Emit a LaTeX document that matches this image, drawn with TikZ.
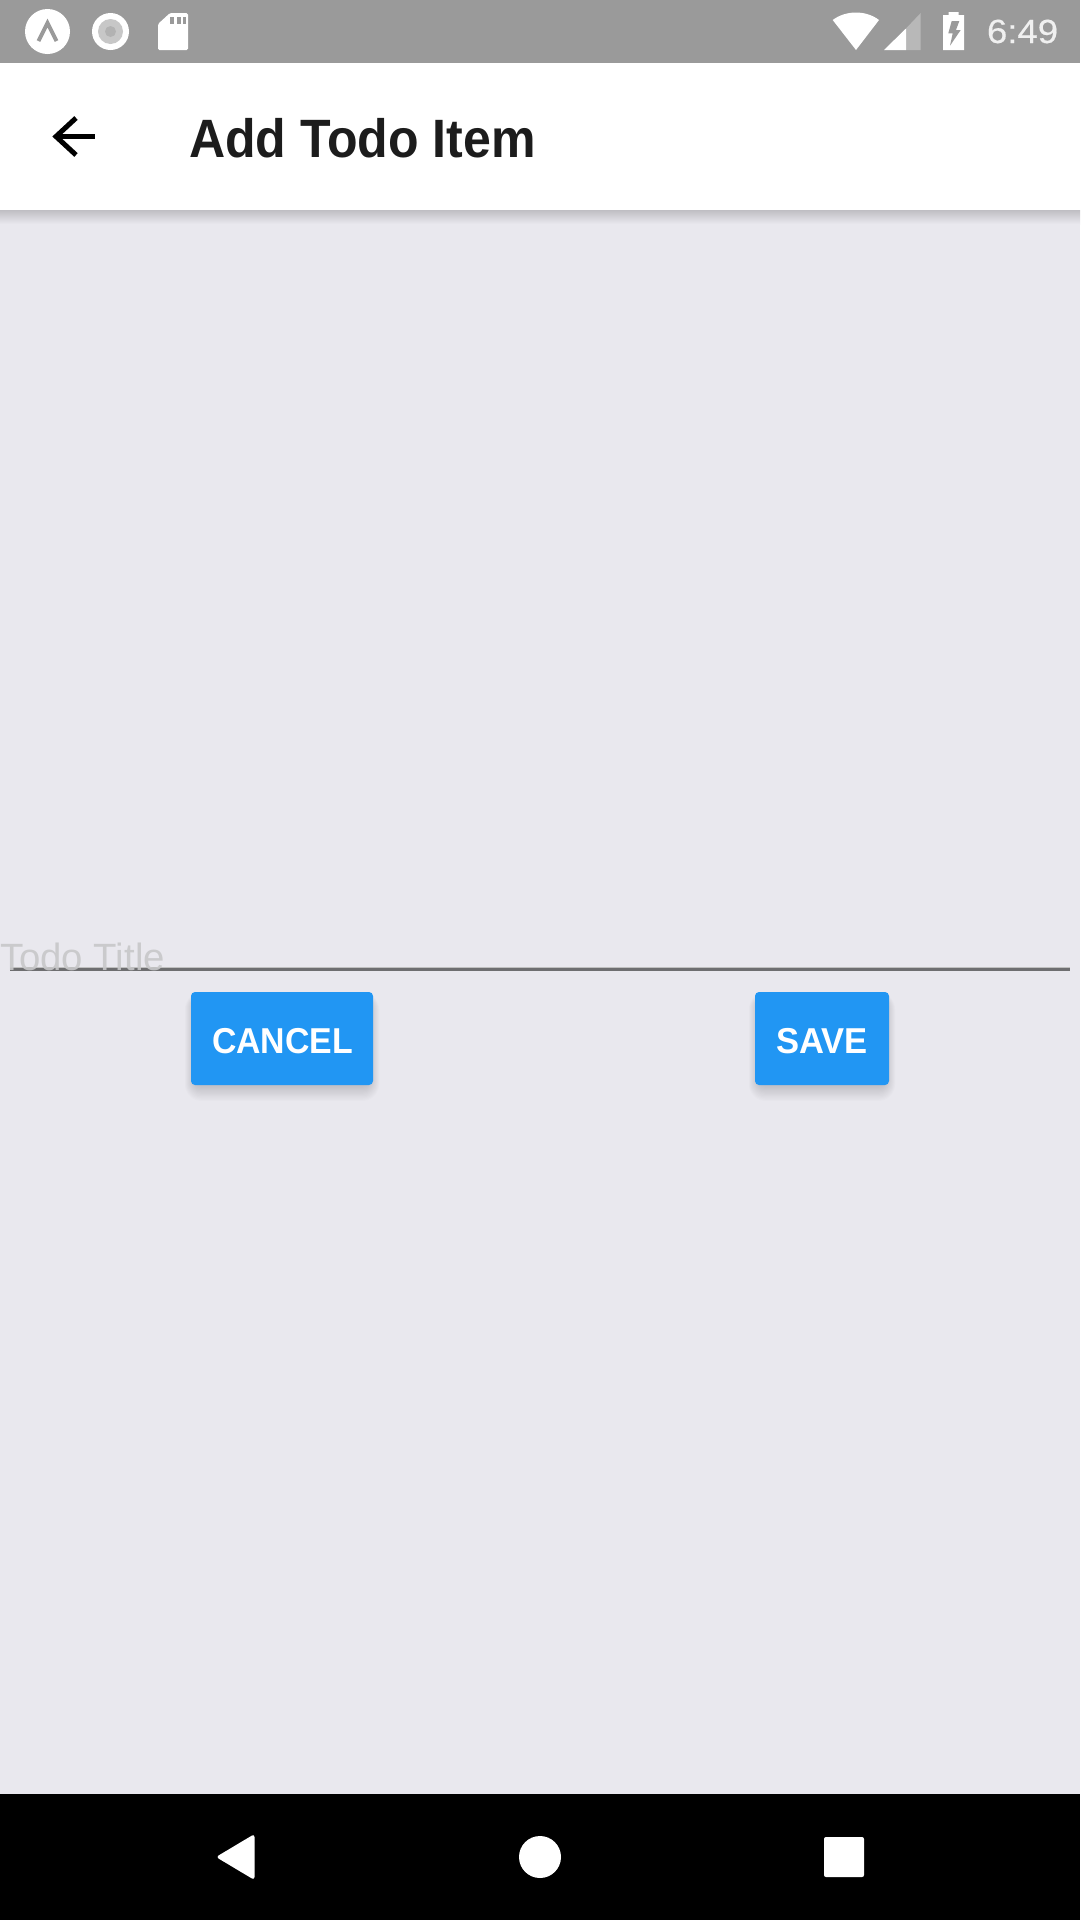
\documentclass[tikz,border=0pt]{standalone}
\usepackage{fontspec}
\setmainfont{Liberation Sans}
\newfontfamily\clockfont[FakeBold=0.35]{Liberation Sans}
\definecolor{bgc}{HTML}{E9E8EE}
\definecolor{statusc}{HTML}{9A9A9A}
\definecolor{titlec}{HTML}{1C1C1C}
\definecolor{btnc}{HTML}{2196F3}
\definecolor{hintc}{HTML}{C7C7C9}
\definecolor{linec}{HTML}{6E6E70}
\tikzset{
  txt/.style={inner sep=0pt,outer sep=0pt,anchor=base west},
  btnbox/.style={fill=btnc,draw=none,rounded corners=4pt},
}
\newcommand{\btnshadow}[4]{%
  \foreach \i in {0,...,15}{
    \fill[black,opacity=0.013,rounded corners={5pt+\i*0.8pt}]
      ({#1+5-\i*0.75},{#2+8-\i*0.5}) rectangle ({#3-5+\i*0.75},{#4-2+\i*1.2});
  }}
\begin{document}
\begin{tikzpicture}[x=1pt,y=-1pt]
\useasboundingbox (0,0) rectangle (1080,1920);
% background
\fill[bgc] (0,0) rectangle (1080,1920);
% status bar
\fill[statusc] (0,0) rectangle (1080,63);
% app bar shadow
\shade[top color=black!18!bgc,bottom color=bgc,draw=none] (0,210) rectangle (1080,224);
% app bar
\fill[white] (0,63) rectangle (1080,210);
% status left icons
\fill[white] (47.5,31.5) circle[radius=22.5];
\draw[statusc,line width=4pt] (38.5,41) -- (47.5,23) -- (56.5,41);
\fill[white] (110.5,31.5) circle[radius=18.5];
\fill[black!22] (110.5,31.5) circle[radius=12.5];
\fill[black!30] (110.5,31.5) circle[radius=5.5];
\fill[white,rounded corners=1.5pt] (158,24) -- (170,13) -- (188,13) -- (188,50) -- (158,50) -- cycle;
\fill[statusc] (170,17) rectangle (174,24);
\fill[statusc] (176.5,17) rectangle (180.5,24);
\fill[statusc] (182.5,17) rectangle (186,24);
% status right icons
\fill[white] (856,50) -- (832.7,20) .. controls (846,10) and (866,10) .. (879,20) -- cycle;
\fill[white] (884,50) -- (906,28.5) -- (906,50) -- cycle;
\fill[white,opacity=.3] (906,28.5) -- (920.7,13) -- (920.7,50) -- (906,50) -- cycle;
\fill[white] (943,15) -- (948.7,15) -- (948.7,12) -- (958.7,12) -- (958.7,15) -- (964,15) -- (964,50) -- (943,50) -- cycle;
\fill[statusc] (951.7,21) -- (959.3,21) -- (956,30) -- (960.7,30) -- (950,45.7) -- (952.7,33.3) -- (948.3,33.3) -- cycle;
\node[txt,text=white!94!black,font=\fontsize{33.5}{36}\clockfont] (clock) at (987,43) {\scalebox{1.09}[1]{6:49}};
% back arrow
\draw[black,line width=5pt] (55,136) -- (95,136);
\draw[black,line width=5pt] (76,118) -- (56,136.5) -- (76,155);
% title
\node[txt,text=titlec,font=\fontsize{54}{60}\bfseries\selectfont] (title) at (189,157) {\scalebox{.927}[1]{Add Todo Item}};
% input
\draw[black!25,line width=1pt] (10,967.5) -- (1070,967.5);
\draw[linec,line width=2.4pt] (10,969.5) -- (1070,969.5);
\node[txt,text=hintc,font=\fontsize{38}{42}\selectfont,opacity=.9] (hint) at (0,970) {\scalebox{1.01}[1]{Todo Title}};
% buttons
\btnshadow{191}{992}{373}{1085}
\btnshadow{755}{992}{889}{1085}
\fill[btnbox] (191,992) rectangle (373,1085);
\fill[btnbox] (755,992) rectangle (889,1085);
\node[txt,text=white,font=\fontsize{36}{40}\bfseries\selectfont] (cancel) at (212,1053) {\scalebox{.94}[1]{CANCEL}};
\node[txt,text=white,font=\fontsize{36}{40}\bfseries\selectfont] (save) at (776,1053) {\scalebox{.96}[1]{SAVE}};
% nav bar
\fill[black] (0,1794) rectangle (1080,1920);
\fill[white,rounded corners=3pt] (216,1857) -- (254.5,1834) -- (254.5,1880) -- cycle;
\fill[white] (540,1857) circle[radius=21];
\fill[white,rounded corners=2pt] (824,1837) rectangle (864,1877);
\end{tikzpicture}
\end{document}
